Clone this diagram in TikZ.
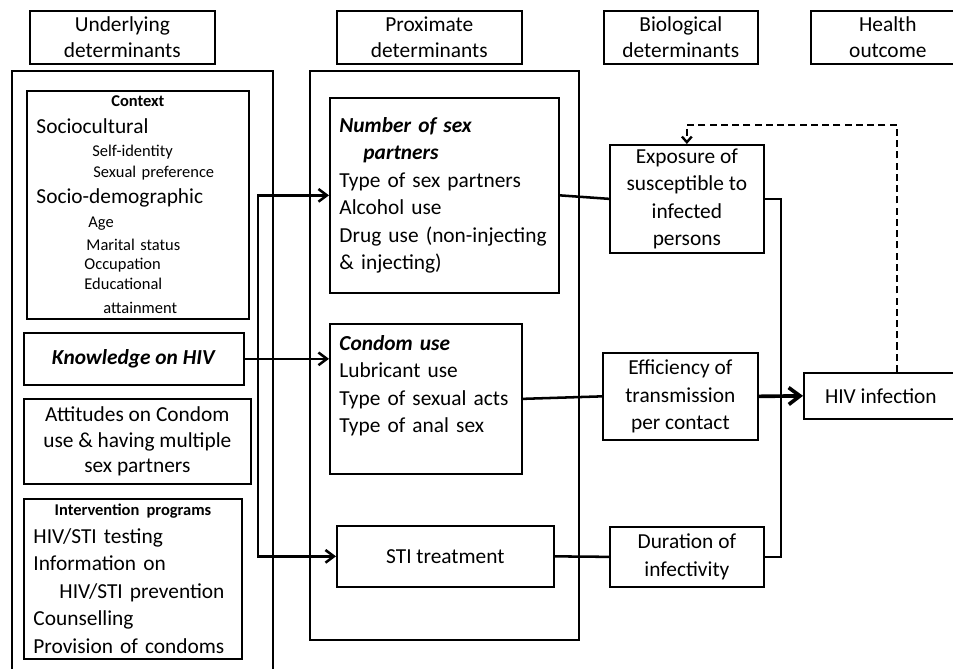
\documentclass[tikz,border=0pt]{standalone}
\usepackage{fontspec}
\setmainfont{Carlito}
\usepackage{tikz}
\usetikzlibrary{
  arrows.meta,
  positioning,
  calc
}
\newcommand{\bigtxt}{\fontsize{15.2}{19.6}\selectfont}
\newcommand{\headtxt}{\fontsize{15.2}{18.4}\selectfont}
\newcommand{\subtxt}{\fontsize{11.7}{14.5}\selectfont}

\begin{document}
\begin{tikzpicture}[
  box/.style={draw, line width=1.2pt, anchor=north west, inner sep=0pt,
              align=center, font=\bigtxt},
  head/.style={box, font=\headtxt, minimum height=1.325cm},
  frame/.style={draw, line width=1.3pt, anchor=north west, inner sep=0pt},
  list/.style={box, align=left, inner xsep=0.24cm},
  conn/.style={line width=1.8pt},
  arr/.style={conn, -{Straight Barb[length=6pt, width=9pt]}},
  fbk/.style={line width=1.7pt, dash pattern=on 5pt off 3pt,
              -{Straight Barb[length=4pt, width=7pt]}},
]
  \useasboundingbox (0,0) rectangle (23.825,-16.7);

  % Column headers
  \node[head, minimum width=4.625cm] (hUnder) at (0.725,-0.25)
    {Underlying\\determinants};
  \node[head, minimum width=4.625cm] (hProx) at (8.4,-0.25)
    {Proximate\\determinants};
  \node[head, minimum width=3.85cm] (hBio) at (15.075,-0.25)
    {Biological\\determinants};
  \node[head, minimum width=3.85cm] (hHealth) at (20.25,-0.25)
    {Health\\outcome};

  % Outer frames
  \node[frame, minimum width=6.525cm, minimum height=15.5cm] (under)
    at (0.275,-1.75) {};
  \node[frame, minimum width=6.725cm, minimum height=14.225cm] (prox)
    at (7.725,-1.75) {};

  % Underlying determinants
  \node[list, font=\subtxt, text width=5.075cm, minimum height=5.7cm] (context)
    at (0.65,-2.25)
    {\hspace*{\fill}\textbf{Context}\hspace*{\fill}\mbox{}\\[4pt]
     {\bigtxt Sociocultural}\\[2.5pt]
     \hspace*{1.4cm}Self-identity\\
     \hspace*{1.425cm}Sexual preference\\[4pt]
     {\bigtxt Socio-demographic}\\[2.5pt]
     \hspace*{1.3cm}Age\\[1.8pt]
     \hspace*{1.25cm}Marital status\\[-1pt]
     \hspace*{1.2cm}Occupation\\
     \hspace*{1.2cm}Educational\\[2.5pt]
     \hspace*{1.675cm}attainment};
  \node[box, minimum width=5.5cm, minimum height=1.3cm] (know)
    at (0.575,-8.3) {\textbf{\textit{Knowledge on HIV}}};
  \node[box, font=\headtxt, minimum width=5.675cm, minimum height=2.125cm] (attit)
    at (0.575,-9.95) {Attitudes on Condom\\use \& having multiple\\sex partners};
  \node[list, text width=4.975cm, minimum height=4cm] (interv)
    at (0.575,-12.45)
    {\hspace*{\fill}{\subtxt\bfseries Intervention programs}\hspace*{\fill}\mbox{}\\
     HIV/STI testing\\
     Information on\\
     \hspace*{0.65cm}HIV/STI prevention\\
     Counselling\\
     Provision of condoms};

  % Proximate determinants
  \node[list, text width=5.25cm, minimum height=4.875cm] (number)
    at (8.225,-2.425)
    {\textbf{\textit{Number of sex}}\\
     \hspace*{0.6cm}\textbf{\textit{partners}}\\
     Type of sex partners\\
     Alcohol use\\
     Drug use (non-injecting\\
     \& injecting)};
  \node[list, text width=4.325cm, minimum height=3.75cm] (condom)
    at (8.225,-8.075)
    {\textbf{\textit{Condom use}}\\
     Lubricant use\\
     Type of sexual acts\\
     Type of anal sex\\[1.7pt]
     \mbox{}};
  \node[box, minimum width=5.425cm, minimum height=1.525cm] (sti)
    at (8.4,-13.125) {STI treatment};

  % Biological determinants
  \node[box, minimum width=3.85cm, minimum height=2.7cm] (expo)
    at (15.225,-3.6) {Exposure of\\susceptible to\\infected\\persons};
  \node[box, minimum width=3.875cm, minimum height=2.175cm] (effic)
    at (15.05,-8.8) {Efficiency of\\transmission\\per contact};
  \node[box, minimum width=3.85cm, minimum height=1.5cm] (durat)
    at (15.225,-13.15) {Duration of\\infectivity};

  % Health outcome
  \node[box, minimum width=3.85cm, minimum height=1.15cm] (hiv)
    at (20.075,-9.3) {HIV infection};

  % Connectors
  \coordinate (fork) at (6.45,-9);
  \coordinate (join) at (19.525,-9);
  \coordinate (fb) at (22.425,-3.125);

  \draw[conn, {Straight Barb[length=6pt, width=9pt]}-{Straight Barb[length=6pt, width=9pt]}]
    (number.west) -- (number.west -| fork) -- (sti.west -| fork) -- (sti.west);
  \draw[arr] (know.east) -- (know.east -| condom.west);

  \draw[conn] (number.east) -- (expo.west);
  \draw[conn] (condom.east) -- (effic.west);
  \draw[conn] (sti.east) -- (durat.west);

  \draw[conn] (expo.east) -- (expo.east -| join) -- (durat.east -| join)
    -- (durat.east);
  \draw[conn, line width=2.6pt, -{Straight Barb[length=8pt, width=12pt]}]
    (effic.east) -- (hiv.west);

  \draw[fbk] (hiv.north -| fb) -- (fb) -- (fb -| expo.north) -- (expo.north);

\end{tikzpicture}
\end{document}
